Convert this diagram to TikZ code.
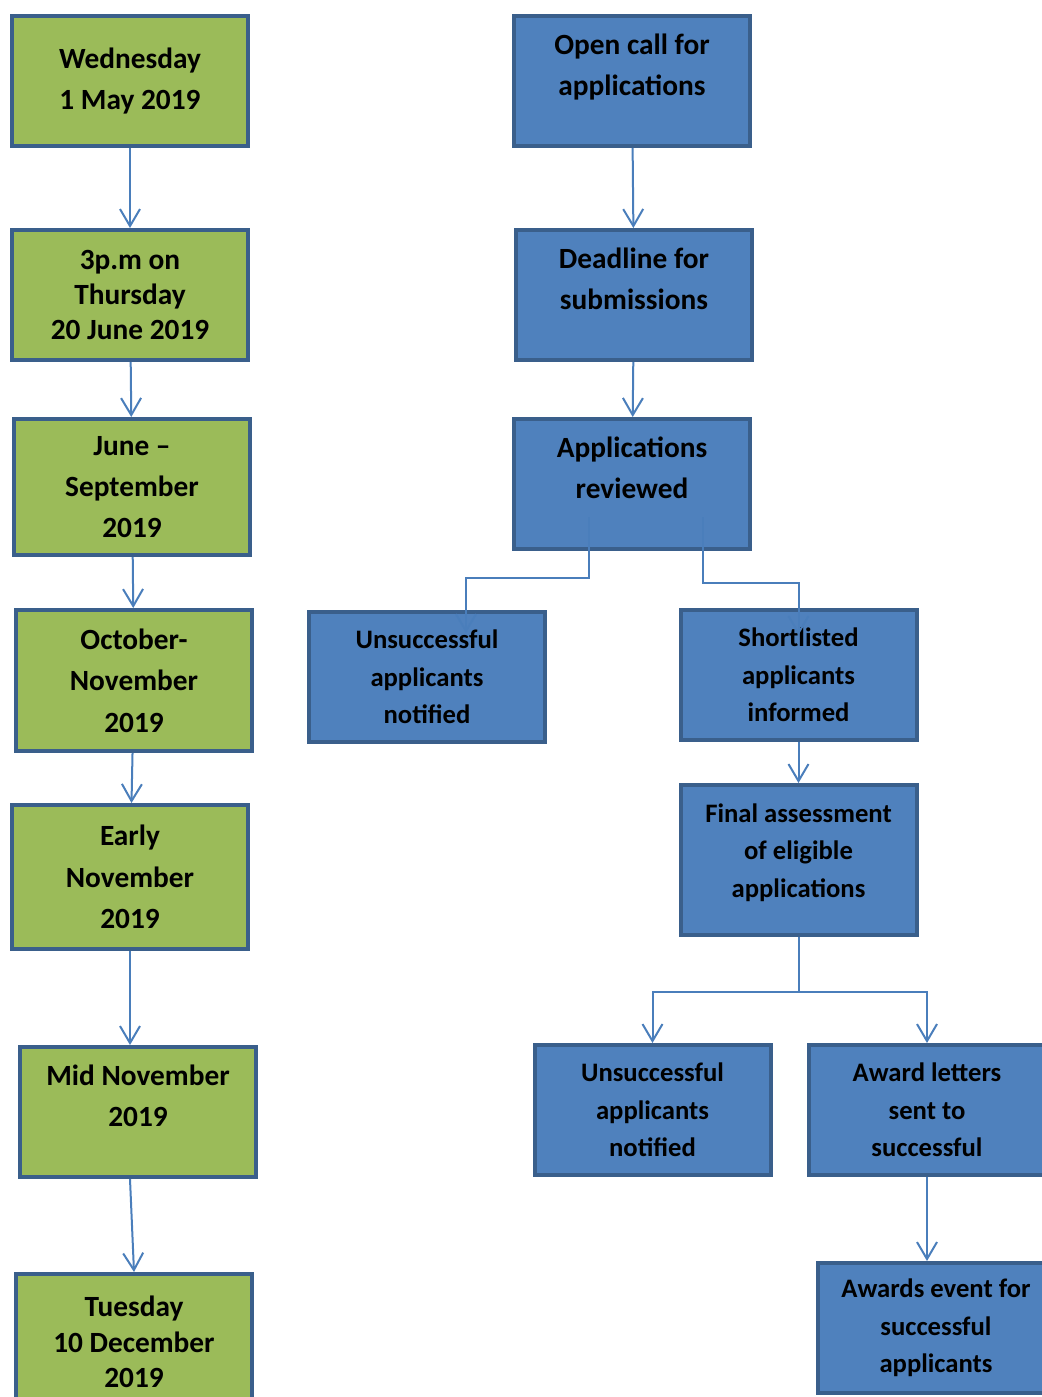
\documentclass[tikz,border=0pt]{standalone}
\usepackage{fontspec}
\setmainfont{Carlito}
\usetikzlibrary{calc,arrows.meta}
\definecolor{datefill}{HTML}{9BBB59}
\definecolor{stagefill}{HTML}{4F81BD}
\definecolor{boxline}{HTML}{3A5F8B}
\definecolor{linkline}{HTML}{4A7EBB}

\begin{document}
\begin{tikzpicture}[x=0.75pt, y=-0.75pt,
		datebox/.style={draw=boxline, line width=3pt, fill=datefill, align=center,
			minimum width=177pt, minimum height=97.5pt, inner sep=0pt,
			font=\fontsize{22}{31}\selectfont\bfseries},
		stagebox/.style={datebox, fill=stagefill},
		tighttext/.style={font=\fontsize{22}{26.6}\selectfont\bfseries},
		smalltext/.style={font=\fontsize{20}{28}\selectfont\bfseries},
		raised/.style={text depth=24pt},
		link/.style={draw=linkline, line width=1.5pt, -{Straight Barb[length=12.75pt, width=15pt]}}]
		%%%%% START %%%%%
		
		\useasboundingbox (0, 0) rectangle (1042, 1397);
		\clip (0, 0) rectangle (1042, 1397);
		
		% dates
		\node[datebox] (may) at (130, 81) {Wednesday\\1 May 2019};
		\node[datebox, tighttext] (june) at (130, 295) {3p.m on\\Thursday\\20 June 2019};
		\node[datebox, minimum height=102pt] (summer) at (132, 487) {June --\\September\\2019};
		\node[datebox, minimum height=105.75pt] (autumn) at (134, 680.5) {October-\\November\\2019};
		\node[datebox, minimum height=108pt] (earlynov) at (130, 877) {Early\\November\\2019};
		\node[datebox, raised] (midnov) at (138, 1112) {Mid November\\2019};
		\node[datebox, tighttext, minimum height=102pt] (dec) at (134, 1342) {Tuesday\\10 December\\2019};
		
		% stages
		\node[stagebox, raised] (opencall) at (632, 81) {Open call for\\applications};
		\node[stagebox, raised] (deadline) at (634, 295) {Deadline for\\submissions};
		\node[stagebox, raised] (review) at (632, 484) {Applications\\reviewed};
		\node[stagebox, smalltext] (rejectA) at (427, 677) {Unsuccessful\\applicants\\notified};
		\node[stagebox, smalltext] (shortlist) at (798.5, 675) {Shortlisted\\applicants\\informed};
		\node[stagebox, smalltext, minimum height=112.5pt, text depth=14.5pt] (final) at (798.5, 860) {Final assessment\\of eligible\\applications};
		\node[stagebox, smalltext] (rejectB) at (652.5, 1110) {Unsuccessful\\applicants\\notified};
		\node[stagebox, smalltext] (letters) at (927, 1110) {Award letters\\sent to\\successful};
		\node[stagebox, smalltext] (event) at (936, 1328) {Awards event for\\successful\\applicants};
		
		% timeline links
		\draw[link] (may) -- (june);
		\draw[link] (june) -- (summer);
		\draw[link] (summer) -- (autumn);
		\draw[link] (autumn) -- (earlynov);
		\draw[link] (earlynov) -- (earlynov |- midnov.north);
		\draw[link] (midnov.south -| may) -- (dec.north);
		
		% process links
		\draw[link] (opencall) -- (deadline);
		\draw[link] (deadline) -- (review);
		\draw[link] ($(review.south)+(-43, -34)$) -- ++(0, 61) -| ($(rejectA.north)+(39, 23)$);
		\draw[link] ($(review.south)+(71, -34)$) -- ++(0, 66) -| ($(shortlist.north)+(0, 27)$);
		\draw[link] (shortlist) -- (final);
		\draw[link] (final.south) -- ++(0, 55) -| (rejectB.north);
		\draw[link] (final.south) -- ++(0, 55) -| (letters.north);
		\draw[link] (letters) -- (letters |- event.north);
		
		%%%%% END %%%%%
	\end{tikzpicture}
\end{document}
